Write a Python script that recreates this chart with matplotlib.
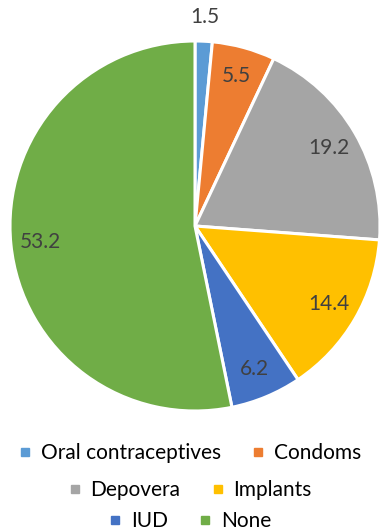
import numpy as np
import matplotlib.pyplot as plt
from matplotlib.lines import Line2D

methods = ['Oral contraceptives', 'Condoms', 'Depovera', 'Implants', 'IUD', 'None']
shares = [1.5, 5.5, 19.2, 14.4, 6.2, 53.2]
colors = ['#5B9BD5', '#ED7D31', '#A5A5A5', '#FFC000', '#4472C4', '#70AD47']

plt.rcParams['font.family'] = ['Lato', 'DejaVu Sans']

fig = plt.figure(figsize=(3.8, 5.3), dpi=100)
ax = fig.add_axes([10 / 380, 119 / 530, 370 / 380, 370 / 530])

wedges, _ = ax.pie(shares, colors=colors, startangle=90, counterclock=False,
                   wedgeprops=dict(edgecolor='white', linewidth=2.2))
ax.set_xlim(-1, 1)
ax.set_ylim(-1, 1)
ax.set_aspect('equal')

# value labels: inside the wedge, tiny slices pushed outside
for w, v in zip(wedges, shares):
    mid = np.deg2rad((w.theta1 + w.theta2) / 2)
    r = 1.13 if v < 3 else 0.84
    ax.text(r * np.cos(mid), r * np.sin(mid), f'{v:.1f}', ha='center', va='center',
            fontsize=15, color='#404040', clip_on=False)

# legend laid out as three centred rows of two
rows = [(0, 1), (2, 3), (4, 5)]
row_y = [453, 490, 521]
for (i, j), y in zip(rows, row_y):
    handles = [Line2D([], [], linestyle='none', marker='s', markersize=6,
                      color=colors[k]) for k in (i, j)]
    fig.legend(handles, [methods[i], methods[j]], loc='center',
               bbox_to_anchor=(0.5, 1 - y / 530), ncol=2, frameon=False,
               fontsize=15, handlelength=0.6, handletextpad=0.45,
               columnspacing=1.5, borderpad=0, labelcolor='#000000')

fig.savefig('out.png', dpi=100)
